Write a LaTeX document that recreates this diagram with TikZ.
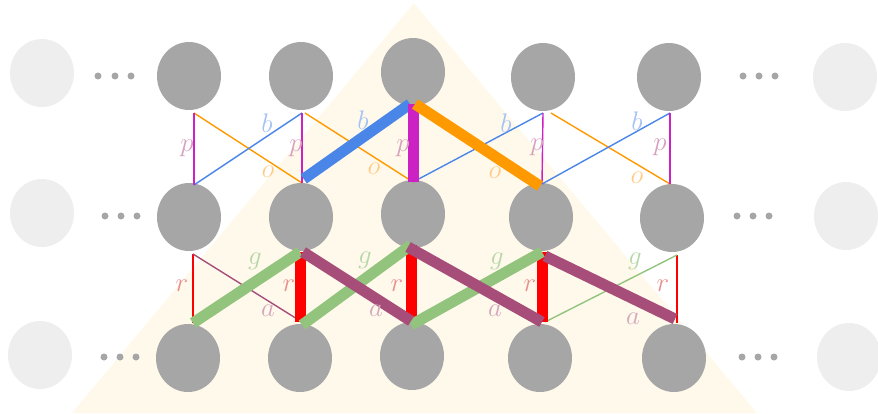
\documentclass[tikz,border=0pt]{standalone}
\usetikzlibrary{shapes.geometric}
\definecolor{nodegray}{HTML}{A6A6A6}
\definecolor{fadegray}{HTML}{EEEEEE}
\definecolor{tricol}{HTML}{FFF9EB}
\definecolor{cP}{HTML}{CC22C4}
\definecolor{cB}{HTML}{4A86E8}
\definecolor{cO}{HTML}{FF9900}
\definecolor{cR}{HTML}{FF0000}
\definecolor{cG}{HTML}{93C47D}
\definecolor{cA}{HTML}{A64D79}
\definecolor{lP}{HTML}{D6A0BE}
\definecolor{lB}{HTML}{A4C2F4}
\definecolor{lO}{HTML}{FFCC88}
\definecolor{lR}{HTML}{EA8F8F}
\definecolor{lG}{HTML}{B6D7A8}
\definecolor{lA}{HTML}{D5A6BD}
\begin{document}
\begin{tikzpicture}[x=1pt,y=-1pt,
  unit/.style={ellipse,fill=nodegray,draw=none,minimum width=64pt,minimum height=68pt,inner sep=0pt},
  fadeunit/.style={unit,fill=fadegray},
  dotnode/.style={circle,fill=nodegray,draw=none,minimum size=7pt,inner sep=0pt},
  thin/.style={line width=1.4pt},
  thick/.style={line width=11pt},
  lab/.style={font=\Huge,scale=1.08,inner sep=0pt}]
\useasboundingbox (0,0) rectangle (878,413);
\fill[tricol] (414,3) -- (757,413) -- (72,413) -- cycle;

% units
\node[unit] (T1) at (189,76) {};
\node[unit] (T2) at (301,76) {};
\node[unit] (T3) at (413,72) {};
\node[unit] (T4) at (543,77) {};
\node[unit] (T5) at (669,77) {};
\node[unit] (M1) at (189,217) {};
\node[unit] (M2) at (301,217) {};
\node[unit] (M3) at (413,214) {};
\node[unit] (M4) at (541,217) {};
\node[unit] (M5) at (672,218) {};
\node[unit] (B1) at (188,358) {};
\node[unit] (B2) at (300,358) {};
\node[unit] (B3) at (412,356) {};
\node[unit] (B4) at (540,358) {};
\node[unit] (B5) at (674,358) {};
\node[fadeunit] (FL1) at (42,73) {};
\node[fadeunit] (FL2) at (42,213) {};
\node[fadeunit] (FL3) at (40,355) {};
\node[fadeunit] (FR1) at (845,77) {};
\node[fadeunit] (FR2) at (846,216) {};
\node[fadeunit] (FR3) at (849,357) {};

% dots
\foreach \x [count=\i] in {98,115,131} \node[dotnode] (dtl\i) at (\x,76) {};
\foreach \x [count=\i] in {743,759,775} \node[dotnode] (dtr\i) at (\x,76) {};
\foreach \x [count=\i] in {105,121,137} \node[dotnode] (dml\i) at (\x,216) {};
\foreach \x [count=\i] in {737,753,769} \node[dotnode] (dmr\i) at (\x,216) {};
\foreach \x [count=\i] in {104,120,136} \node[dotnode] (dbl\i) at (\x,357) {};
\foreach \x [count=\i] in {742,758,774} \node[dotnode] (dbr\i) at (\x,357) {};

% ports upper layer
\coordinate (UT1) at (194,113); \coordinate (UB1) at (194,185);
\coordinate (UT2) at (302,113); \coordinate (UB2) at (302,183);
\coordinate (UT3) at (413,104); \coordinate (UB3) at (413,182);
\coordinate (UT4) at (543,113); \coordinate (UB4) at (542,184);
\coordinate (UT5) at (670,113); \coordinate (UB5) at (670,184);
% ports lower layer
\coordinate (LT1) at (193,254); \coordinate (LB1) at (193,323);
\coordinate (LT2) at (300,252); \coordinate (LB2) at (300,322);
\coordinate (LT3) at (411,245); \coordinate (LB3) at (411,321);
\coordinate (LT4) at (542,252); \coordinate (LB4) at (542,322);
\coordinate (LT5) at (677,255); \coordinate (LB5) at (677,323);

% upper thin edges
\draw[cO,thin] (UT1) -- (UB2);
\draw[cO,thin] ([xshift=3pt]UT2) -- (UB3);
\draw[cO,thin] ([xshift=8pt]UT4) -- (UB5);
\draw[cB,thin] (UB1) -- (UT2);
\draw[cB,thin] (UB3) -- (UT4);
\draw[cB,thin] (UB4) -- (UT5);
\draw[cP,thin] (UT1) -- (UB1);
\draw[cP,thin] (UT2) -- (UB2);
\draw[cP,thin] (UT4) -- (UB4);
\draw[cP,thin] (UT5) -- (UB5);
% upper thick edges
\draw[cB,thick,shorten <=7pt] ([xshift=-4pt]UB2) -- ([xshift=-3pt]UT3);
\draw[cP,thick] (UT3) -- (UB3);
\draw[cO,thick] ([xshift=2pt]UT3) -- ([xshift=-2pt,yshift=-2pt]UB4);

% lower thin edges
\draw[cR,thin] (LT1) -- (LB1);
\draw[cR,thin] (LT5) -- (LB5);
\draw[cA,thin] (LT1) -- ([xshift=2pt]LB2);
\draw[cG,thin] ([xshift=3pt]LB4) -- (LT5);
% lower thick edges
\draw[cR,thick] (LT2) -- (LB2);
\draw[cR,thick] (LT3) -- (LB3);
\draw[cR,thick] (LT4) -- (LB4);
\draw[cG,thick] (LB1) -- (LT2);
\draw[cG,thick] ([xshift=2pt,yshift=-3pt]LB2) -- (LT3);
\draw[cG,thick] ([yshift=-4pt]LB3) -- (LT4);
\draw[cA,thick] ([xshift=3pt]LT2) -- (LB3);
\draw[cA,thick] ([xshift=-3pt,yshift=-2pt]LT3) -- (LB4);
\draw[cA,thick] ([xshift=3pt,yshift=-4pt]LT4) -- ([xshift=-2pt,yshift=4pt]LB5);

% labels upper
\node[lab,text=lP] (lp1) at (187,148) {$p$};
\node[lab,text=lP] (lp2) at (296,148) {$p$};
\node[lab,text=lP] (lp3) at (403,148) {$p$};
\node[lab,text=lP] (lp4) at (537,147) {$p$};
\node[lab,text=lP] (lp5) at (660,147) {$p$};
\node[lab,text=lB] (lb1) at (267,123) {$b$};
\node[lab,text=lB] (lb2) at (363,120) {$b$};
\node[lab,text=lB] (lb3) at (506,123) {$b$};
\node[lab,text=lB] (lb4) at (637,121) {$b$};
\node[lab,text=lO] (lo1) at (268,172) {$o$};
\node[lab,text=lO] (lo2) at (374,169) {$o$};
\node[lab,text=lO] (lo3) at (495,173) {$o$};
\node[lab,text=lO] (lo4) at (637,178) {$o$};
% labels lower
\node[lab,text=lR] (lr1) at (182,286) {$r$};
\node[lab,text=lR] (lr2) at (289,286) {$r$};
\node[lab,text=lR] (lr3) at (397,286) {$r$};
\node[lab,text=lR] (lr4) at (530,286) {$r$};
\node[lab,text=lR] (lr5) at (663,286) {$r$};
\node[lab,text=lG] (lg1) at (255,261) {$g$};
\node[lab,text=lG] (lg2) at (365,260) {$g$};
\node[lab,text=lG] (lg3) at (497,261) {$g$};
\node[lab,text=lG] (lg4) at (635,261) {$g$};
\node[lab,text=lA] (la1) at (268,311) {$a$};
\node[lab,text=lA] (la2) at (376,311) {$a$};
\node[lab,text=lA] (la3) at (495,311) {$a$};
\node[lab,text=lA] (la4) at (633,319) {$a$};
\end{tikzpicture}
\end{document}
